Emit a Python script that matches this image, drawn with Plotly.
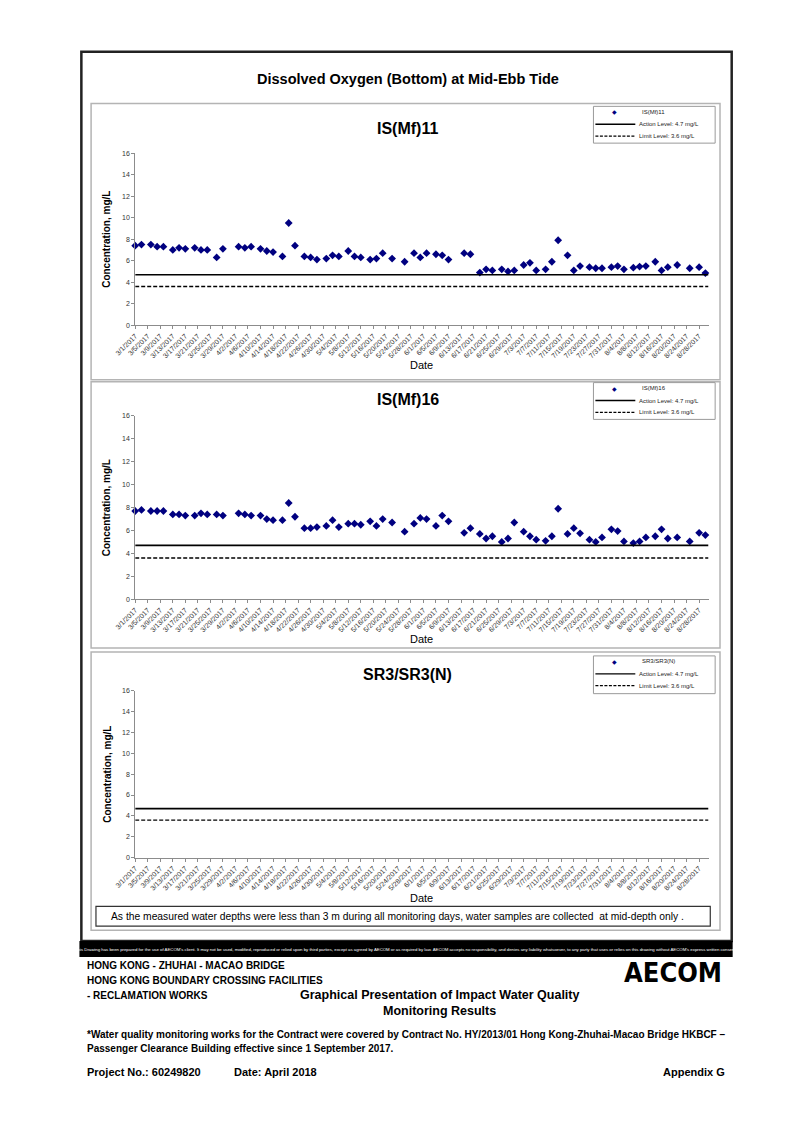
import plotly.graph_objects as go
import pandas as pd

# ---------------- data ----------------
point_dates = [
    "2017-03-01", "2017-03-03", "2017-03-06", "2017-03-08", "2017-03-10", "2017-03-13", "2017-03-15",
    "2017-03-17", "2017-03-20", "2017-03-22", "2017-03-24", "2017-03-27", "2017-03-29",
    "2017-04-03", "2017-04-05", "2017-04-07", "2017-04-10", "2017-04-12", "2017-04-14", "2017-04-17",
    "2017-04-19", "2017-04-21", "2017-04-24", "2017-04-26", "2017-04-28",
    "2017-05-01", "2017-05-03", "2017-05-05", "2017-05-08", "2017-05-10", "2017-05-12", "2017-05-15",
    "2017-05-17", "2017-05-19", "2017-05-22", "2017-05-26",
    "2017-05-29", "2017-05-31", "2017-06-02", "2017-06-05", "2017-06-07", "2017-06-09", "2017-06-14",
    "2017-06-16", "2017-06-19", "2017-06-21", "2017-06-23", "2017-06-26", "2017-06-28", "2017-06-30",
    "2017-07-03", "2017-07-05", "2017-07-07", "2017-07-10", "2017-07-12", "2017-07-14", "2017-07-17",
    "2017-07-19", "2017-07-21", "2017-07-24", "2017-07-26", "2017-07-28",
    "2017-07-31", "2017-08-02", "2017-08-04", "2017-08-07", "2017-08-09", "2017-08-11", "2017-08-14",
    "2017-08-16", "2017-08-18", "2017-08-21", "2017-08-25", "2017-08-28", "2017-08-30",
]

is_mf11 = [
    7.4, 7.5, 7.5, 7.3, 7.3, 7.0, 7.2, 7.1, 7.2, 7.0, 7.0, 6.3, 7.1,
    7.3, 7.2, 7.3, 7.1, 6.9, 6.8, 6.4, 9.5, 7.4, 6.4, 6.3, 6.1,
    6.2, 6.5, 6.4, 6.9, 6.4, 6.3, 6.1, 6.2, 6.7, 6.2, 5.9,
    6.7, 6.3, 6.7, 6.6, 6.5, 6.1, 6.7, 6.6, 4.9, 5.2, 5.1, 5.2, 5.0, 5.1,
    5.6, 5.8, 5.1, 5.2, 5.9, 7.9, 6.5, 5.1, 5.5, 5.4, 5.3, 5.3,
    5.4, 5.5, 5.2, 5.35, 5.45, 5.5, 5.9, 5.1, 5.4, 5.6, 5.3, 5.4, 4.85,
]

is_mf16 = [
    7.7, 7.8, 7.7, 7.7, 7.7, 7.4, 7.4, 7.3, 7.3, 7.5, 7.4, 7.4, 7.3,
    7.5, 7.4, 7.3, 7.3, 7.0, 6.9, 6.9, 8.4, 7.2, 6.2, 6.2, 6.3,
    6.4, 6.9, 6.3, 6.6, 6.6, 6.5, 6.8, 6.4, 7.0, 6.7, 5.9,
    6.6, 7.1, 7.0, 6.4, 7.3, 6.8, 5.8, 6.2, 5.7, 5.3, 5.5, 5.0, 5.3, 6.7,
    5.9, 5.5, 5.2, 5.1, 5.5, 7.9, 5.7, 6.2, 5.75, 5.2, 5.0, 5.4,
    6.1, 5.95, 5.05, 4.9, 5.05, 5.4, 5.5, 6.1, 5.3, 5.4, 5.05, 5.8, 5.6,
]

sr3_dates = []
sr3 = []

action_level = 4.7
limit_level = 3.6
x_start = "2017-03-01"
x_end = "2017-08-31"

tick_labels = [
    "3/1/2017", "3/5/2017", "3/9/2017", "3/13/2017", "3/17/2017", "3/21/2017", "3/25/2017", "3/29/2017",
    "4/2/2017", "4/6/2017", "4/10/2017", "4/14/2017", "4/18/2017", "4/22/2017", "4/26/2017", "4/30/2017",
    "5/4/2017", "5/8/2017", "5/12/2017", "5/16/2017", "5/20/2017", "5/24/2017", "5/28/2017",
    "6/1/2017", "6/5/2017", "6/9/2017", "6/13/2017", "6/17/2017", "6/21/2017", "6/25/2017", "6/29/2017",
    "7/3/2017", "7/7/2017", "7/11/2017", "7/15/2017", "7/19/2017", "7/23/2017", "7/27/2017", "7/31/2017",
    "8/4/2017", "8/8/2017", "8/12/2017", "8/16/2017", "8/20/2017", "8/24/2017", "8/28/2017",
]
y_ticks = [0, 2, 4, 6, 8, 10, 12, 14, 16]

# ---------------- layout helpers ----------------
W, H = 794, 1122
FONT = "Liberation Sans, Arial, sans-serif"


def fx(p):
    return p / W


def fy(p):
    return 1 - p / H


tick_vals = pd.to_datetime(tick_labels, format="%m/%d/%Y").strftime("%Y-%m-%d").tolist()

PLOT_L, PLOT_R = 117.3, 706.2
panels = [
    dict(name="IS(Mf)11", x=point_dates, y=is_mf11, frame=(100, 378), y16=150.0, y0=323.3,
         title_y=125, leg=(103, 140), date_y=363),
    dict(name="IS(Mf)16", x=point_dates, y=is_mf16, frame=(380, 648), y16=414.5, y0=599.0,
         title_y=398, leg=(381, 418), date_y=639),
    dict(name="SR3/SR3(N)", x=sr3_dates, y=sr3, frame=(652, 932), y16=691.0, y0=859.0,
         title_y=675, leg=(656, 694), date_y=900),
]

fig = go.Figure()
shapes = []
annotations = []

# outer border and black bar
shapes.append(dict(type="rect", xref="paper", yref="paper", x0=fx(62), x1=fx(730), y0=fy(943), y1=fy(48),
                   line=dict(color="#222222", width=2.5), fillcolor="rgba(0,0,0,0)", layer="below"))
shapes.append(dict(type="rect", xref="paper", yref="paper", x0=fx(60), x1=fx(731), y0=fy(959), y1=fy(943),
                   line=dict(width=0), fillcolor="#000000"))

annotations.append(dict(text="<b>Dissolved Oxygen (Bottom) at Mid-Ebb Tide</b>", x=fx(397), y=fy(75),
                        xref="paper", yref="paper", showarrow=False, xanchor="center", yanchor="middle",
                        font=dict(family=FONT, size=14.5, color="#000")))

for i, p in enumerate(panels):
    n = "" if i == 0 else str(i + 1)
    xa = "x" + n
    ya = "y" + n
    f0, f1 = p["frame"]
    shapes.append(dict(type="rect", xref="paper", yref="paper", x0=fx(72), x1=fx(718), y0=fy(f1), y1=fy(f0),
                       line=dict(color="#b4b4b4", width=1.5), fillcolor="rgba(0,0,0,0)", layer="below"))

    fig.add_trace(go.Scatter(x=p["x"], y=p["y"], mode="markers", xaxis=xa, yaxis=ya, showlegend=False,
                             marker=dict(symbol="diamond", size=6, color="#000080"), cliponaxis=False,
                             name=p["name"]))
    fig.add_trace(go.Scatter(x=[x_start, x_end], y=[action_level, action_level], mode="lines", xaxis=xa,
                             yaxis=ya, showlegend=False, line=dict(color="#000", width=1.6),
                             name="Action Level: 4.7 mg/L"))
    fig.add_trace(go.Scatter(x=[x_start, x_end], y=[limit_level, limit_level], mode="lines", xaxis=xa,
                             yaxis=ya, showlegend=False, line=dict(color="#000", width=1.4, dash="4px,2px"),
                             name="Limit Level: 3.6 mg/L"))

    dom_y = [fy(p["y0"]), fy(p["y16"])]
    fig.update_layout(**{
        ("xaxis" + n): dict(domain=[fx(PLOT_L), fx(PLOT_R)], anchor=ya, type="date", range=[x_start, x_end],
                            tickmode="array", tickvals=tick_vals, ticktext=tick_labels, tickangle=-45,
                            tickfont=dict(family=FONT, size=7, color="#333"), showgrid=False,
                            showline=True, linecolor="#8c8c8c", linewidth=1, ticks="outside",
                            ticklen=3, tickcolor="#8c8c8c", zeroline=False, fixedrange=True),
        ("yaxis" + n): dict(domain=dom_y, anchor=xa, range=[0, 16], tickmode="array", tickvals=y_ticks,
                            tickfont=dict(family=FONT, size=7, color="#333"), showgrid=False,
                            showline=True, linecolor="#8c8c8c", linewidth=1, ticks="outside",
                            ticklen=3, tickcolor="#8c8c8c", zeroline=False, fixedrange=True),
    })

    annotations.append(dict(text="<b>" + p["name"] + "</b>", x=fx(397), y=fy(p["title_y"]), xref="paper",
                            yref="paper", showarrow=False, xanchor="center", yanchor="middle",
                            font=dict(family=FONT, size=16, color="#000")))
    annotations.append(dict(text="<b>Concentration, mg/L</b>", x=fx(88), y=fy((p["y0"] + p["y16"]) / 2),
                            xref="paper", yref="paper", showarrow=False, textangle=-90, xanchor="center",
                            yanchor="middle", font=dict(family=FONT, size=10, color="#000")))
    annotations.append(dict(text="Date", x=fx((PLOT_L + PLOT_R) / 2), y=fy(p["date_y"]), xref="paper",
                            yref="paper", showarrow=False, xanchor="center", yanchor="middle",
                            font=dict(family=FONT, size=11, color="#000")))

    # legend box
    l0, l1 = p["leg"]
    shapes.append(dict(type="rect", xref="paper", yref="paper", x0=fx(588), x1=fx(713), y0=fy(l1), y1=fy(l0),
                       line=dict(color="#9a9a9a", width=1), fillcolor="#ffffff"))
    r1 = l0 + 5.5
    r2 = l0 + 18
    r3 = l0 + 30
    annotations.append(dict(text="◆", x=fx(610), y=fy(r1), xref="paper", yref="paper", showarrow=False,
                            xanchor="center", yanchor="middle", font=dict(family="DejaVu Sans", size=6, color="#000080")))
    shapes.append(dict(type="line", xref="paper", yref="paper", x0=fx(590), x1=fx(631), y0=fy(r2), y1=fy(r2),
                       line=dict(color="#000", width=1.3)))
    shapes.append(dict(type="line", xref="paper", yref="paper", x0=fx(590), x1=fx(631), y0=fy(r3), y1=fy(r3),
                       line=dict(color="#000", width=1.2, dash="3px,1.5px")))
    for txt, yy, xx in [(p["name"], r1, 636), ("Action Level: 4.7 mg/L", r2, 633), ("Limit Level: 3.6 mg/L", r3, 633)]:
        annotations.append(dict(text=txt, x=fx(xx), y=fy(yy), xref="paper", yref="paper", showarrow=False,
                                xanchor="left", yanchor="middle", font=dict(family=FONT, size=6, color="#222")))

# note box
shapes.append(dict(type="rect", xref="paper", yref="paper", x0=fx(77), x1=fx(708), y0=fy(928), y1=fy(908),
                   line=dict(color="#333", width=1.2), fillcolor="#ffffff"))
annotations.append(dict(text="As the measured water depths were less than 3 m during all monitoring days, water samples are collected  at mid-depth only .",
                        x=fx(90), y=fy(918), xref="paper", yref="paper", showarrow=False, xanchor="left",
                        yanchor="middle", font=dict(family=FONT, size=10.3, color="#000")))

# disclaimer in black bar
annotations.append(dict(text="This Drawing has been prepared for the use of AECOM's client. It may not be used, modified, reproduced or relied upon by third parties, except as agreed by AECOM or as required by law. AECOM accepts no responsibility, and denies any liability whatsoever, to any party that uses or relies on this drawing without AECOM's express written consent.",
                        x=fx(395), y=fy(951), xref="paper", yref="paper", showarrow=False, xanchor="center",
                        yanchor="middle", font=dict(family="Liberation Sans Narrow, " + FONT, size=4.3, color="#fff")))

# footer
def foot(text, x, y, size, anchor="left", bold=True):
    t = "<b>" + text + "</b>" if bold else text
    annotations.append(dict(text=t, x=fx(x), y=fy(y), xref="paper", yref="paper", showarrow=False,
                            xanchor=anchor, yanchor="middle", font=dict(family=FONT, size=size, color="#000")))

foot("HONG KONG - ZHUHAI - MACAO BRIDGE", 66, 968, 10)
foot("HONG KONG BOUNDARY CROSSING FACILITIES", 66, 983, 10)
foot("- RECLAMATION WORKS", 66, 998, 10)
foot("Graphical Presentation of Impact Water Quality", 430, 997, 12.5, anchor="center")
foot("Monitoring Results", 430, 1013, 12.5, anchor="center")
foot("*Water quality monitoring works for the Contract were covered by Contract No. HY/2013/01 Hong Kong-Zhuhai-Macao Bridge HKBCF –", 66, 1037, 10)
foot("Passenger Clearance Building effective since 1 September 2017.", 66, 1051, 10)
foot("Project No.: 60249820", 66, 1075, 11)
foot("Date: April 2018", 217, 1075, 11)
foot("Appendix G", 725, 1075, 11, anchor="right")
annotations.append(dict(text="<b>AECOM</b>", x=fx(722), y=fy(975), xref="paper", yref="paper", showarrow=False,
                        xanchor="right", yanchor="middle",
                        font=dict(family="Liberation Sans Narrow, DejaVu Sans Condensed, " + FONT, size=27, color="#000")))

fig.update_layout(width=W, height=H, margin=dict(l=0, r=0, t=0, b=0), paper_bgcolor="#ffffff",
                  plot_bgcolor="rgba(0,0,0,0)", showlegend=False, shapes=shapes, annotations=annotations)

fig.write_html("out.html", config={"displayModeBar": False},
               post_script="document.body.style.margin='0px';document.body.style.overflow='hidden';")
